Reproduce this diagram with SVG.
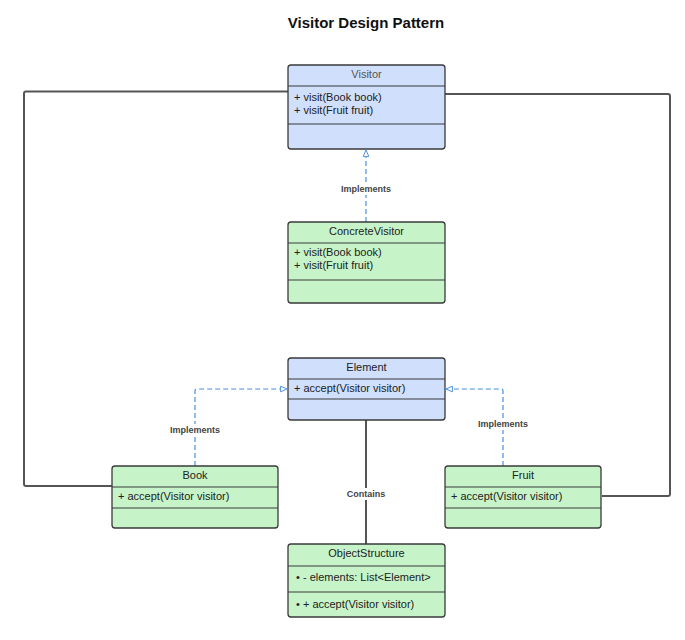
<svg xmlns="http://www.w3.org/2000/svg" width="685" height="640" viewBox="0 0 685 640">
<defs>
<style>
text{font-family:"Liberation Sans",Arial,sans-serif;fill:#222;}
.title{font-size:15px;font-weight:bold;text-anchor:middle;fill:#111;}
.hdr{font-size:11px;text-anchor:middle;}
.mem{font-size:11px;}
.lbl{font-size:9px;font-weight:bold;text-anchor:middle;fill:#444;}
.blue{fill:#cfdffc;stroke:#3a3a3a;stroke-width:1.3;}
.green{fill:#c6f4c8;stroke:#3a3a3a;stroke-width:1.3;}
.div{stroke:#3a3a3a;stroke-width:1.2;}
.solid{fill:none;stroke:#555;stroke-width:2;}
.dash{fill:none;stroke:#4a8fe0;stroke-width:1.2;stroke-dasharray:5,3;}
.bg{fill:#fff;}
</style>
<marker id="tri" viewBox="0 0 10 10" refX="9" refY="5" markerWidth="8" markerHeight="8" orient="auto" markerUnits="userSpaceOnUse">
<path d="M1,1.5 L9,5 L1,8.5 Z" fill="#fff" stroke="#4a8fe0" stroke-width="1.2"/>
</marker>
</defs>
<rect width="685" height="640" fill="#fff"/>
<text class="title" x="366" y="28">Visitor Design Pattern</text>

<g id="connectors">
<path class="solid" d="M288,91.5 H26 Q24,91.5 24,93.5 V484 Q24,486 26,486 H112"/>
<path class="solid" d="M445,94 H668 Q670,94 670,96 V494 Q670,496 668,496 H602"/>
<path class="dash" d="M366,222 V150" marker-end="url(#tri)"/>
<rect class="bg" x="340" y="183" width="52" height="12"/>
<text class="lbl" x="366" y="192">Implements</text>
<path class="dash" d="M195,466 V391 Q195,389 197,389 H287" marker-end="url(#tri)"/>
<rect class="bg" x="169" y="424" width="52" height="12"/>
<text class="lbl" x="195" y="433">Implements</text>
<path class="dash" d="M503,466 V391 Q503,389 501,389 H446" marker-end="url(#tri)"/>
<rect class="bg" x="477" y="418" width="52" height="12"/>
<text class="lbl" x="503" y="427">Implements</text>
<path class="solid" d="M366,420 V544"/>
<rect class="bg" x="344" y="488" width="44" height="12"/>
<text class="lbl" x="366" y="497">Contains</text>
</g>

<g id="visitor">
<rect class="blue" x="288" y="65" width="157" height="84" rx="3"/>
<line class="div" x1="288" y1="86" x2="445" y2="86"/>
<line class="div" x1="288" y1="124" x2="445" y2="124"/>
<text class="hdr" x="366.5" y="78" style="fill:#555">Visitor</text>
<text class="mem" x="294" y="101">+ visit(Book book)</text>
<text class="mem" x="294" y="114">+ visit(Fruit fruit)</text>
</g>

<g id="concretevisitor">
<rect class="green" x="288" y="222" width="157" height="81" rx="3"/>
<line class="div" x1="288" y1="243" x2="445" y2="243"/>
<line class="div" x1="288" y1="280" x2="445" y2="280"/>
<text class="hdr" x="366.5" y="235">ConcreteVisitor</text>
<text class="mem" x="294" y="256">+ visit(Book book)</text>
<text class="mem" x="294" y="269">+ visit(Fruit fruit)</text>
</g>

<g id="element">
<rect class="blue" x="288" y="358" width="157" height="62" rx="3"/>
<line class="div" x1="288" y1="379" x2="445" y2="379"/>
<line class="div" x1="288" y1="399" x2="445" y2="399"/>
<text class="hdr" x="366.5" y="371">Element</text>
<text class="mem" x="294" y="392">+ accept(Visitor visitor)</text>
</g>

<g id="book">
<rect class="green" x="112" y="466" width="166" height="62" rx="3"/>
<line class="div" x1="112" y1="487" x2="278" y2="487"/>
<line class="div" x1="112" y1="508" x2="278" y2="508"/>
<text class="hdr" x="195" y="479">Book</text>
<text class="mem" x="118" y="500">+ accept(Visitor visitor)</text>
</g>

<g id="fruit">
<rect class="green" x="445" y="466" width="156" height="62" rx="3"/>
<line class="div" x1="445" y1="487" x2="601" y2="487"/>
<line class="div" x1="445" y1="508" x2="601" y2="508"/>
<text class="hdr" x="523" y="479">Fruit</text>
<text class="mem" x="451" y="500">+ accept(Visitor visitor)</text>
</g>

<g id="objectstructure">
<rect class="green" x="288" y="544" width="157" height="73" rx="3"/>
<line class="div" x1="288" y1="566" x2="445" y2="566"/>
<line class="div" x1="288" y1="592" x2="445" y2="592"/>
<text class="hdr" x="366.5" y="557">ObjectStructure</text>
<text class="mem" x="296" y="581">• - elements: List&lt;Element&gt;</text>
<text class="mem" x="296" y="608">• + accept(Visitor visitor)</text>
</g>
</svg>
